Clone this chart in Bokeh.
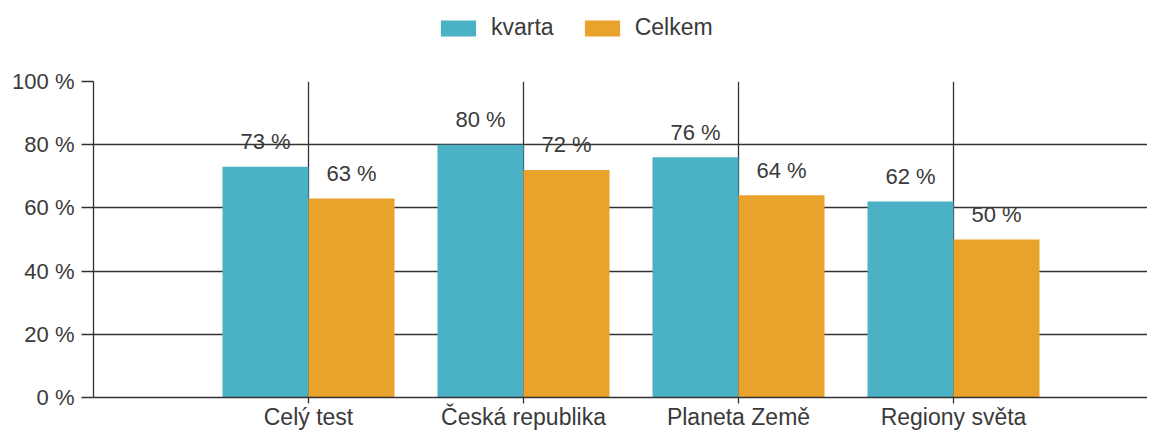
from bokeh.plotting import figure
from bokeh.layouts import column
from bokeh.models import Range1d, FixedTicker, Legend, LegendItem, ColumnDataSource
from bokeh.embed import file_html
from bokeh.resources import INLINE
from bokeh.core.properties import value

categories = ["Celý test", "Česká republika", "Planeta Země", "Regiony světa"]
kvarta = [73, 80, 76, 62]
celkem = [63, 72, 64, 50]
series_names = ["kvarta", "Celkem"]
y_ticks = [0, 20, 40, 60, 80, 100]
y_tick_labels = ["0 %", "20 %", "40 %", "60 %", "80 %", "100 %"]

TEAL = "#4bb1c4"
ORANGE = "#e9a22b"
TXT = "#3a3a3a"
GRID = "#333333"
FONT = "Liberation Sans"
FS = "22px"
W = 1147
LEFT = 93
LEG_H = 66
MAIN_H = 366

pos = list(range(1, len(categories) + 1))
bw = 0.4
src_k = ColumnDataSource(dict(x=[p - bw / 2 for p in pos], top=kvarta,
                              lab=[f"{v} %" for v in kvarta]))
src_c = ColumnDataSource(dict(x=[p + bw / 2 for p in pos], top=celkem,
                              lab=[f"{v} %" for v in celkem]))

# ---------- legend strip (series glyphs kept out of its visible range) ----------
lf = figure(width=W, height=LEG_H, output_backend="svg", toolbar_location=None,
            x_range=Range1d(-20, -10), y_range=Range1d(-20, -10), min_border=0)
lf.axis.visible = False
lf.grid.visible = False
lf.outline_line_color = None
dk = lf.vbar(x="x", top="top", width=bw, source=src_k, fill_color=TEAL, line_color=None)
dc = lf.vbar(x="x", top="top", width=bw, source=src_c, fill_color=ORANGE, line_color=None)
legend = Legend(items=[LegendItem(label=series_names[0], renderers=[dk]),
                       LegendItem(label=series_names[1], renderers=[dc])],
                orientation="horizontal", location=(436 - LEFT, 25),
                glyph_width=44, glyph_height=20, label_standoff=11, spacing=26,
                padding=0, margin=0, border_line_color=None,
                background_fill_alpha=0,
                label_text_font=FONT, label_text_font_size="23px",
                label_text_color=TXT, label_height=20)
lf.add_layout(legend, "center")

# ---------- main chart ----------
p = figure(width=W, height=MAIN_H, output_backend="svg", toolbar_location=None,
           x_range=Range1d(0, (W - LEFT) / 215), y_range=Range1d(0, 100),
           min_border_left=LEFT, min_border_right=0, min_border_top=15,
           min_border_bottom=10)
p.outline_line_color = None

p.vbar(x="x", top="top", width=bw, source=src_k, fill_color=TEAL, line_color=None)
p.vbar(x="x", top="top", width=bw, source=src_c, fill_color=ORANGE, line_color=None)

for src in (src_k, src_c):
    p.text(x="x", y="top", text="lab", source=src, text_align="center",
           text_baseline="alphabetic", y_offset=-25, text_color=TXT,
           text_font=value(FONT), text_font_size=FS)

p.xaxis.ticker = FixedTicker(ticks=pos)
p.xaxis.major_label_overrides = {pp: c for pp, c in zip(pos, categories)}
p.yaxis.ticker = FixedTicker(ticks=y_ticks)
p.yaxis.major_label_overrides = {t: l for t, l in zip(y_ticks, y_tick_labels)}
for ax in (p.xaxis, p.yaxis):
    ax.minor_tick_line_color = None
    ax.major_tick_in = 0
    ax.axis_line_color = GRID
    ax.major_tick_line_color = GRID
    ax.axis_line_width = 1.3
    ax.major_tick_line_width = 1.3
    ax.major_label_text_color = TXT
    ax.major_label_text_font = FONT
p.yaxis.major_label_text_font_size = FS
p.xaxis.major_label_text_font_size = "23px"
p.yaxis.major_tick_out = 12
p.yaxis.major_label_standoff = 7
p.xaxis.major_tick_out = 6
p.xaxis.major_label_standoff = 0

p.xgrid.ticker = FixedTicker(ticks=pos)
p.ygrid.ticker = FixedTicker(ticks=y_ticks)
for g in (p.xgrid, p.ygrid):
    g.grid_line_color = GRID
    g.grid_line_width = 1.3

layout = column(lf, p, spacing=0)
open("out.html", "w").write(file_html(layout, INLINE))
